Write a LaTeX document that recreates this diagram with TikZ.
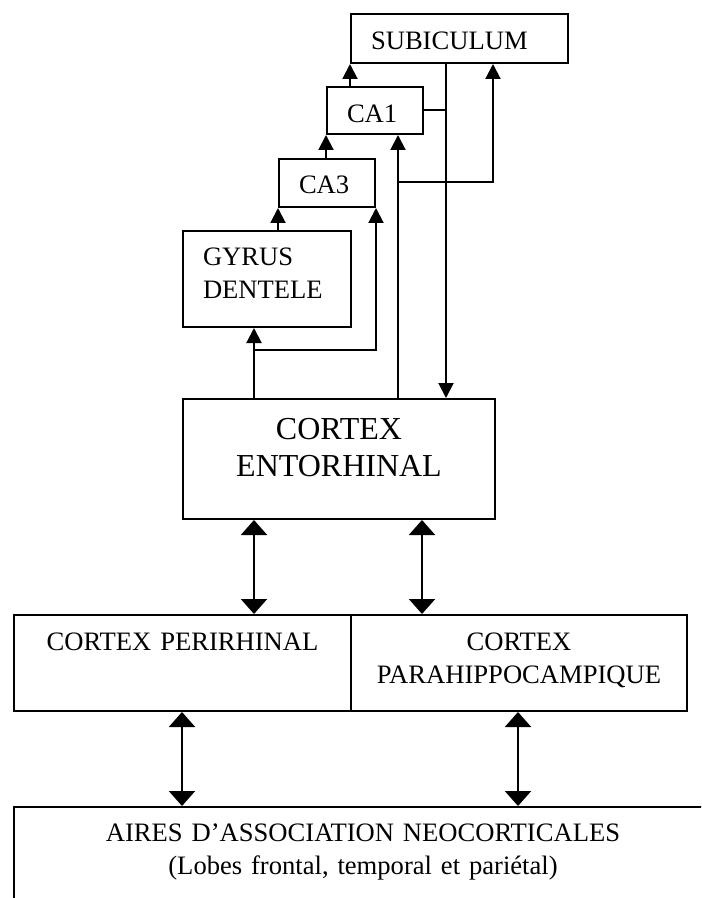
\documentclass[tikz,border=0pt]{standalone}
\usepackage{fontspec}
\setmainfont{Liberation Serif}
\usetikzlibrary{arrows.meta}
\begin{document}
\begin{tikzpicture}[x=0.5pt,y=-0.5pt,
        boite/.style={draw,line width=1pt,anchor=north west,inner xsep=10pt,inner ysep=0pt,
            font=\fontsize{13.3}{16.5}\selectfont},
        fleche/.style={line width=1pt,-{Triangle[length=7.5pt,width=7.5pt]}},
        flechedb/.style={line width=1pt,{Triangle[length=7.5pt,width=13pt]}-{Triangle[length=7.5pt,width=13pt]}}]
        \useasboundingbox (0,0) rectangle (701,898);
        \clip (0,0) rectangle (701,898);
        % hippocampe
        \node[boite,align=left,text width=88.5pt,text height=18pt,text depth=6.5pt] (sub) at (350,13) {SUBICULUM};
        \node[boite,align=left,text width=28pt,text height=17.8pt,text depth=5.7pt] (ca1) at (326,86) {CA1};
        \node[boite,align=left,text width=28pt,text height=17.3pt,text depth=6.7pt] (ca3) at (278,158) {CA3};
        \node[boite,align=left,text width=64pt,text height=17.5pt,text depth=30.5pt] (gyrus) at (182,230) {GYRUS\\DENTELE};
        \node[boite,align=center,text width=136pt,text height=20pt,text depth=40pt,
            font=\fontsize{16}{18.5}\selectfont] (ento) at (182,398) {CORTEX\\ENTORHINAL};
        % cortex
        \node[boite,align=center,text width=148.5pt,text height=17.5pt,text depth=30.5pt] (peri) at (13,614) {CORTEX PERIRHINAL};
        \node[boite,align=center,text width=148pt,text height=17.5pt,text depth=30.5pt] (para) at (350,614) {CORTEX\\PARAHIPPOCAMPIQUE};
        \node[boite,align=center,text width=329pt,text height=17pt,text depth=60pt] (aires) at (13,806)
            {AIRES D’ASSOCIATION NEOCORTICALES\\(Lobes frontal, temporal et pariétal)};
        % boucle trisynaptique
        \draw[fleche] (sub.south west |- ca1.north) -- (sub.south west);
        \draw[fleche] (ca1.south west |- ca3.north) -- (ca1.south west);
        \draw[fleche] (ca3.south west |- gyrus.north) -- (ca3.south west);
        \coordinate (g) at (254,350);
        \draw[fleche] (g |- ento.north) -- (g |- gyrus.south);
        \draw[fleche] (g) -| (ca3.south east);
        \coordinate (c) at (398,182);
        \coordinate (s) at (493,182);
        \draw[fleche] (c |- ento.north) -- (c |- ca1.south);
        \draw[fleche] (c) -- (s) -- (s |- sub.south);
        \coordinate (r) at (446,109);
        \draw[fleche] (r |- sub.south) -- (r |- ento.north);
        \draw[line width=1pt] (ca1.east) -- (ca1.east -| r);
        % liaisons reciproques
        \foreach \x in {254,422}
            \draw[flechedb] (\x,0 |- ento.south) -- (\x,0 |- peri.north);
        \foreach \x in {182,518}
            \draw[flechedb] (\x,0 |- peri.south) -- (\x,0 |- aires.north);
    \end{tikzpicture}
\end{document}
